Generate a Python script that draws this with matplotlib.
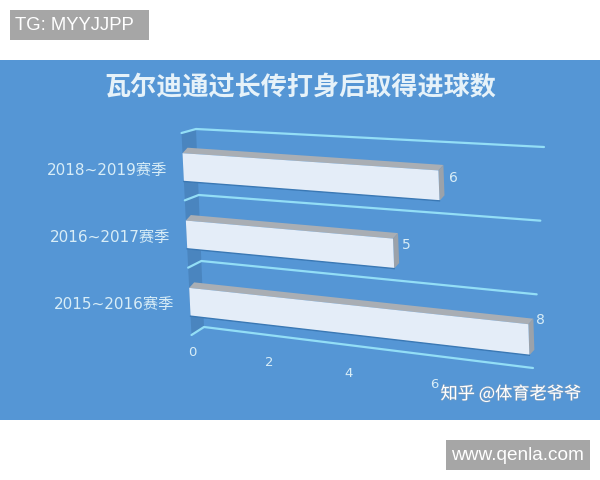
#!/usr/bin/env python
"""
Tilted 3D-looking bar chart of Vardy's goals from long balls.
"""

import numpy as np
import matplotlib
matplotlib.use('Agg')
import matplotlib.pyplot as plt
import matplotlib.patheffects as pe
from matplotlib.patches import Rectangle
from matplotlib.transforms import Affine2D, Transform

plt.rcParams['font.family'] = ['DejaVu Sans', 'Noto Sans CJK SC']

# bottom row first
seasons = ['2015~2016赛季', '2016~2017赛季', '2018~2019赛季']
goals = [8, 5, 6]
axis_ticks = [0, 2, 4, 6]
title = '瓦尔迪通过长传打身后取得进球数'
credit = '知乎 @体育老爷爷'
top_tag = 'TG: MYYJJPP'
bottom_tag = 'www.qenla.com'

BG = '#5596d5'
WALL = '#4a85bf'
GRID = '#93def6'
FACE = '#e4edf8'
TOP = '#a9aeb4'
SIDE = '#9ba2aa'
LABEL = '#d8edf7'
TAG = '#a6a6a6'

VALUE_MAX = 8
ROW_MAX = 3
BAR_LOW, BAR_HIGH = 0.28, 0.70
# pixel nudges of the value labels, same order as goals
VALUE_NUDGE = [(12, -20), (13, -9), (14, -8)]


class BoxProjection(Transform):
    """Maps (value, row) onto a four-cornered plane given in pixels."""
    input_dims = 2
    output_dims = 2

    def __init__(self, low_left, low_right, high_left, high_right, knots=None):
        super().__init__()
        self.corners = [np.array(c, dtype=float) for c in (low_left, low_right, high_left, high_right)]
        self.knots = knots

    def transform_non_affine(self, values):
        values = np.asarray(values, dtype=float)
        if self.knots is None:
            u = values[:, 0] / VALUE_MAX
        else:
            # the picture's value scale is not quite even along the bars
            u = np.interp(values[:, 0], self.knots[0], self.knots[1])
        v = values[:, 1] / ROW_MAX
        ll, lr, hl, hr = self.corners
        low = ll + np.outer(u, lr - ll)
        high = hl + np.outer(u, hr - hl)
        return low + (high - low) * v[:, None]


fig = plt.figure(figsize=(6, 4.8), dpi=100)
ax = fig.add_axes([0, 0, 1, 1])
ax.set_xlim(0, 600)
ax.set_ylim(480, 0)
ax.axis('off')

ax.add_patch(Rectangle((0, 60), 600, 360, color=BG, lw=0, zorder=0))

front = BoxProjection((191.5, 335), (530, 376), (181.5, 133), (523, 154),
                      knots=([0, 5, 6, 8], [0, 0.609, 0.75, 1]))
back = BoxProjection((204, 327), (533, 368), (196, 129), (544, 147))
front_t = front + ax.transData
back_t = back + ax.transData
bar_back_t = front + Affine2D().translate(5, -5.5) + ax.transData
tick_t = BoxProjection((192, 352), (517, 396), (192, 352), (517, 396),
                       knots=([0, 2, 4, 6], [0, 0.237, 0.483, 0.745])) + ax.transData
to_px = ax.transData.inverted().transform

# left wall, between the front edge and the back wall
wall_px = to_px(np.vstack([front_t.transform([(0, 0), (0, ROW_MAX)]),
                           back_t.transform([(0, ROW_MAX), (0, 0)])]))
ax.fill(wall_px[:, 0], wall_px[:, 1], color=WALL, lw=0, zorder=1)

# gridlines: short step from the front edge, then along the back wall
for row in range(ROW_MAX + 1):
    ends = to_px(np.vstack([front_t.transform([(0, row)]),
                            back_t.transform([(0, row), (VALUE_MAX, row)])]))
    ax.plot(ends[:, 0], ends[:, 1], color=GRID, lw=1.6, zorder=2, solid_capstyle='round')

for i, (season, value) in enumerate(zip(seasons, goals)):
    low = i + BAR_LOW
    high = i + BAR_HIGH
    # top and right faces sit behind the front face
    top_px = to_px(np.vstack([front_t.transform([(0, high), (value, high)]),
                              bar_back_t.transform([(value, high), (0, high)])]))
    ax.fill(top_px[:, 0], top_px[:, 1], color=TOP, lw=0, zorder=3)

    side_px = to_px(np.vstack([front_t.transform([(value, high), (value, low)]),
                               bar_back_t.transform([(value, low), (value, high)])]))
    ax.fill(side_px[:, 0], side_px[:, 1], color=SIDE, lw=0, zorder=3)

    ax.fill([0, value, value, 0], [low, low, high, high], color=FACE, lw=0, zorder=4, transform=front_t)
    ax.plot([0, value], [low, low], color='#3a78b4', lw=1.0, zorder=4, transform=front_t)

    mid = (low + high) / 2
    # annotate: offsets in pixels, since the value scale stops at the plot's ends
    nudge = VALUE_NUDGE[i]
    ax.annotate(str(value), (value, mid), xycoords=front_t,
                xytext=(nudge[0] * 0.72, -nudge[1] * 0.72), textcoords='offset points',
                color=LABEL, fontsize=10, ha='center', va='center', zorder=5)
    ax.annotate(season, (0, mid), xycoords=front_t, xytext=(-11.5, -2), textcoords='offset points',
                color=LABEL, fontsize=11, ha='right', va='center', zorder=5)

for tick in axis_ticks:
    ax.text(tick, 0, str(tick), color=LABEL, fontsize=9.5, ha='center', va='center',
            zorder=5, transform=tick_t)

ax.text(300, 88, title, color='#e6f2f9', fontsize=18.8, ha='center', va='center',
        fontweight='bold', family=['Noto Sans CJK SC', 'DejaVu Sans'], zorder=5)

ax.text(511, 394, credit, color='white', fontsize=12.4, ha='center', va='center', zorder=6,
        family=['Noto Sans CJK SC', 'DejaVu Sans'],
        path_effects=[pe.withStroke(linewidth=0.8, foreground='#7f9fbf')])

ax.add_patch(Rectangle((10, 10), 139, 30, color=TAG, lw=0, zorder=5))
ax.text(15, 25.5, top_tag, color='white', fontsize=13.3, ha='left', va='center',
        family='Liberation Sans', zorder=6)
ax.add_patch(Rectangle((446, 440), 144, 30, color=TAG, lw=0, zorder=5))
ax.text(451, 455, bottom_tag, color='white', fontsize=13.7, ha='left', va='center',
        family='Liberation Sans', zorder=6)

fig.savefig('out.png', dpi=100)
plt.close(fig)
